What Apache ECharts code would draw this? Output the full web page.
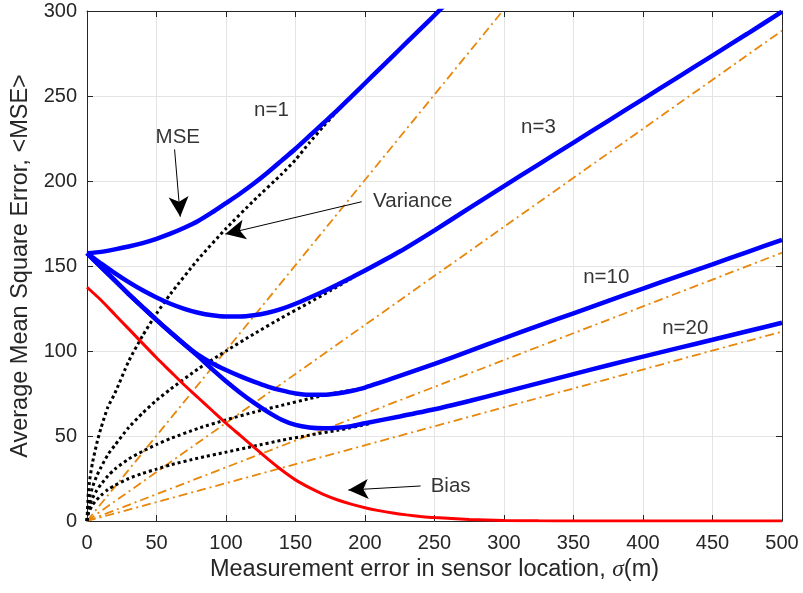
<!DOCTYPE html>
<html>
<head>
<meta charset="utf-8">
<script src="https://cdn.jsdelivr.net/npm/echarts@6/dist/echarts.min.js"></script>
<style>
html,body{margin:0;padding:0;background:#fff;}
#chart{width:803px;height:593px;}
</style>
</head>
<body>
<div id="chart"></div>
<script>
// ---- data (sigma in m, value) ----
const mseN1 = [[0,157.5],[10,158.3],[20,159.8],[30,161.5],[40,163.5],[50,166],[60,169],[70,172.5],[80,176.5],[90,181.5],[100,187],[110,192.5],[120,198.5],[130,205],[140,212],[150,219],[160,226.5],[170,234],[180,241.5],[190,249.5],[200,257.5],[210,265.5],[220,273.5],[230,281.5],[240,289.5],[250,297.5],[260,305.5]];
const mseN3 = [[0,157.5],[10,151.5],[20,145.8],[30,140.5],[40,135.7],[50,131.5],[60,127.8],[70,124.8],[80,122.5],[90,121],[100,120.3],[110,120.3],[120,121],[130,122.5],[140,124.8],[150,127.8],[160,131.3],[170,135],[180,139],[190,143.1],[200,147.3],[225,158.5],[250,171],[275,184],[300,197],[325,209.8],[350,222.6],[375,235.4],[400,248.2],[425,261],[450,273.8],[475,286.6],[500,299.6]];
const mseN10 = [[0,157.5],[10,149.5],[20,141.5],[30,133.5],[40,125.8],[50,118.3],[60,111],[70,104],[80,97.7],[90,92.8],[100,88.8],[110,85.2],[120,82],[130,79.1],[140,76.8],[150,75],[160,74.2],[170,74.2],[180,75],[190,76.5],[200,78.5],[225,85.3],[250,92.4],[275,99.9],[300,107.5],[325,114.9],[350,122.2],[375,129.5],[400,136.7],[425,143.9],[450,151],[475,158.2],[500,165.4]];
const mseN20 = [[0,157.5],[10,149.5],[20,141.5],[30,133.5],[40,125.8],[50,118.3],[60,111],[70,104],[80,96.8],[90,89.3],[100,82.2],[110,75.6],[120,69.6],[130,64.2],[140,59.6],[150,56.5],[160,55],[170,54.5],[180,54.8],[190,55.8],[200,57.5],[225,61.5],[250,65.7],[275,70.6],[300,75.8],[325,81.1],[350,86.4],[375,91.6],[400,96.7],[425,101.7],[450,106.6],[475,111.6],[500,116.6]];

const varN1 = [[0,0],[1,17],[2,24.5],[4,34.5],[7,45.5],[10,54.5],[15,67],[20,75],[30,94],[40,109],[50,122],[60,133.5],[80,154],[100,172],[120,188.5],[140,204],[150,212.5],[160,222.5],[170,232],[180,241]];
const varN3 = [[0,0],[1,10],[2,14],[4,20],[7,26.5],[10,31.5],[15,39],[20,44.5],[30,55],[40,63.5],[50,71],[60,77.5],[80,89.5],[100,100],[120,110],[140,119.5],[160,128.5],[175,135.5],[190,142.5]];
const varN10 = [[0,0],[1,6.5],[2,9.5],[4,13.5],[7,18],[10,21.5],[15,26.5],[20,30.5],[30,36.5],[40,41],[50,45],[60,48.5],[80,54.5],[100,59.5],[120,64],[140,68],[160,72],[180,75.5],[195,77.5]];
const varN20 = [[0,0],[1,4.5],[2,6.5],[4,9.5],[7,12.5],[10,15],[15,18.5],[20,21],[30,25],[40,28],[50,30.5],[60,33],[80,37],[100,40.5],[120,44],[140,47.5],[160,50.5],[180,53.3],[205,57.5]];

const slopeN1 = [[0,0],[299,300]];
const slopeN3 = [[0,0],[500,288.4]];
const slopeN10 = [[0,0],[500,157.8]];
const slopeN20 = [[0,0],[500,111.4]];

const bias = [[0,137.5],[10,130],[20,121.5],[30,113],[40,104.5],[50,96],[60,88],[70,80],[80,72.5],[90,65],[100,57.5],[110,50.5],[120,43.5],[130,36.5],[140,30],[150,24.2],[160,19.6],[170,15.7],[180,12.5],[190,9.9],[200,7.8],[210,6.1],[220,4.7],[230,3.6],[240,2.7],[250,2.0],[275,0.9],[300,0.35],[325,0.12],[350,0.04],[400,0],[500,0]];

const annotations = [
  {name:'n=1', value:[132.7,241.8]},
  {name:'MSE', value:[65.3,225.6]},
  {name:'Variance', value:[234.4,188.2]},
  {name:'n=3', value:[324.8,231.5]},
  {name:'n=10', value:[373.6,143.2]},
  {name:'n=20', value:[430.4,113.4]},
  {name:'Bias', value:[261.6,20.2]}
];
const arrows = [
  [[63.0,218.6],[67.1,179.0]],
  [[197.6,187.8],[99.5,168.8]],
  [[240,20.6],[188,18.2]]
];

const xTitle = 'Measurement error in sensor location, ';
const yTitle = 'Average Mean Square Error, <MSE>';

// ---- chart ----
const FONT = '"Liberation Sans", Arial, Helvetica, sans-serif';
const AX = '#262626';
const chart = echarts.init(document.getElementById('chart'), null, {renderer:'canvas'});

function lineSeries(data, color, width, type, z, smooth) {
  return {
    type:'line', data:data, showSymbol:false, symbol:'none', clip:true,
    smooth:smooth,
    lineStyle:{color:color, width:width, type:type, cap:'butt'},
    z:z, silent:true, animation:false
  };
}
const DASHDOT = [9,4,2,4];
const DOT = [3,3];

const axisCommon = {
  type:'value',
  axisLine:{show:true, onZero:false, lineStyle:{color:AX, width:1}},
  axisTick:{show:true, inside:true, length:6, lineStyle:{color:AX, width:1}}
};

chart.setOption({
  animation:false,
  backgroundColor:'#fff',
  grid:{left:87, right:21, top:11, bottom:72, containLabel:false},
  xAxis:[
    Object.assign({}, axisCommon, {
      position:'bottom', min:0, max:500, interval:50,
      axisLabel:{color:AX, fontSize:20, fontFamily:FONT, margin:12},
      splitLine:{show:true, lineStyle:{color:'#e4e4e4', width:1}},
      name:'{a|' + xTitle + '}{i|σ}{a|(m)}',
      nameLocation:'middle', nameGap:35,
      nameTextStyle:{rich:{
        a:{fontSize:23.5, color:AX, fontFamily:FONT},
        i:{fontSize:23.5, color:AX, fontFamily:'"Liberation Serif", "DejaVu Serif", serif', fontStyle:'italic'}
      }}
    }),
    Object.assign({}, axisCommon, {
      position:'top', min:0, max:500, interval:50,
      axisLabel:{show:false}, splitLine:{show:false}
    })
  ],
  yAxis:[
    Object.assign({}, axisCommon, {
      position:'left', min:0, max:300, interval:50,
      axisLabel:{color:AX, fontSize:20, fontFamily:FONT, margin:10},
      splitLine:{show:true, lineStyle:{color:'#e4e4e4', width:1}},
      name:yTitle, nameLocation:'middle', nameGap:51,
      nameTextStyle:{fontSize:23.5, color:AX, fontFamily:FONT}
    }),
    Object.assign({}, axisCommon, {
      position:'right', min:0, max:300, interval:50,
      axisLabel:{show:false}, splitLine:{show:false}
    })
  ],
  series:[
    lineSeries(slopeN1, '#e8870a', 1.8, DASHDOT, 2, false),
    lineSeries(slopeN3, '#e8870a', 1.8, DASHDOT, 2, false),
    lineSeries(slopeN10, '#e8870a', 1.8, DASHDOT, 2, false),
    lineSeries(slopeN20, '#e8870a', 1.8, DASHDOT, 2, false),
    lineSeries(varN1, '#000', 3, DOT, 3, 0.2),
    lineSeries(varN3, '#000', 3, DOT, 3, 0.2),
    lineSeries(varN10, '#000', 3, DOT, 3, 0.2),
    lineSeries(varN20, '#000', 3, DOT, 3, 0.2),
    lineSeries(bias, '#ff0000', 3, 'solid', 4, 0.2),
    lineSeries(mseN1, '#0000ff', 4.5, 'solid', 5, 0.2),
    lineSeries(mseN3, '#0000ff', 4.5, 'solid', 5, 0.2),
    lineSeries(mseN10, '#0000ff', 4.5, 'solid', 5, 0.2),
    lineSeries(mseN20, '#0000ff', 4.5, 'solid', 5, 0.2),
    {
      type:'scatter', data:annotations, symbolSize:1,
      itemStyle:{color:'rgba(0,0,0,0)'}, silent:true, z:10, animation:false,
      label:{show:true, position:'inside', formatter:function(p){return p.name;},
        color:'#000', fontSize:20.5, fontFamily:FONT},
      markLine:{
        silent:true, animation:false,
        symbol:['none','arrow'], symbolSize:[15,20],
        lineStyle:{color:'#000', width:1, type:'solid'},
        label:{show:false},
        data: arrows.map(function(a){return [{coord:a[0]},{coord:a[1]}];})
      }
    }
  ]
});
</script>
</body>
</html>
